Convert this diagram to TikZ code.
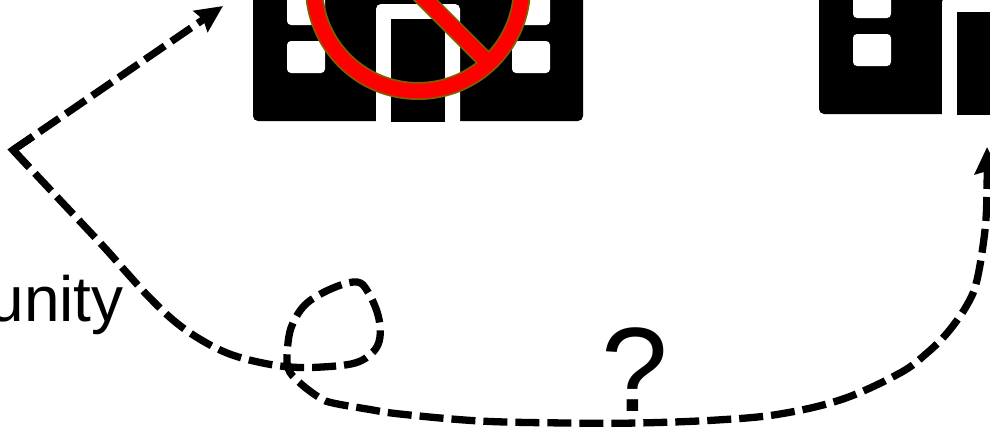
\documentclass[tikz,border=0pt]{standalone}
\usepackage{fontspec}
\setmainfont{Liberation Sans}
\usetikzlibrary{arrows.meta}
\definecolor{ringedge}{HTML}{7F6000}
\tikzset{
  route/.style={line width=0.146cm, black, dash pattern=on 0.48cm off 0.16cm},
  routetip/.style={-{Stealth[length=0.54cm, width=0.5cm, inset=0.06cm]}},
  windowbox/.style={fill=white, rounded corners=0.08cm},
  building/.pic={
    \fill[black, rounded corners=0.1cm] (253,-60) rectangle (583,121);
    \foreach \wx in {287,512} {
      \fill[windowbox] (\wx,-60) rectangle (\wx+38,25);
      \fill[windowbox] (\wx,41) rectangle (\wx+38,73);
    }
    \fill[white, rounded corners=0.1cm] (376,4) rectangle (460,140);
    \fill[white] (376,60) rectangle (460,122);
    \fill[black] (391,19) rectangle (445,122);
  }
}
\begin{document}
\begin{tikzpicture}[x=0.02cm, y=-0.02cm]
  \path[use as bounding box, clip] (0,0) rectangle (990,433);
  \pic at (0,0) {building};
  \pic at (566,-7) {building};
  \coordinate (C) at (418,-13);
  \coordinate (S1) at (380,-45.5);
  \coordinate (S2) at (488.7,63.2);
  \draw[line width=0.36cm, ringedge] (C) circle (104);
  \draw[line width=0.36cm, ringedge] (S1) -- (S2);
  \draw[line width=0.29cm, red] (C) circle (104);
  \draw[line width=0.29cm, red] (S1) -- (S2);
  \coordinate (corner) at (13,150);
  \coordinate (tipA) at (223,6);
  \coordinate (tipB) at (987,147);
  \node[anchor=base east, inner sep=0pt, font=\fontsize{36.4}{40}\selectfont] (unity) at (124,321) {unity};
  \node[anchor=base, inner sep=0pt, font=\fontsize{68.3}{72}\selectfont] (quest) at (635,411) {?};
  \draw[route, routetip] (corner) -- (tipA);
  \draw[route, routetip] plot[smooth, tension=0.6] coordinates {(13,150) (58,198) (103,246) (127,273) (148,296) (173,320) (198,338) (227,353) (258,362) (290,367) (322,367) (355,363) (373,352) (380,337) (378,315) (368,292) (357,282) (333,288) (307,303) (293,323) (288,343) (288,368) (300,383) (320,398) (333,403) (367,409) (400,414) (480,421) (567,423) (637,423) (717,420) (780,414) (843,399) (900,373) (927,353) (948,332) (967,305) (977,280) (985,230) (987,190) (987,147)};
  \draw[line width=0.146cm, black] (33,136.5) -- (corner) -- (29,167);
\end{tikzpicture}
\end{document}
